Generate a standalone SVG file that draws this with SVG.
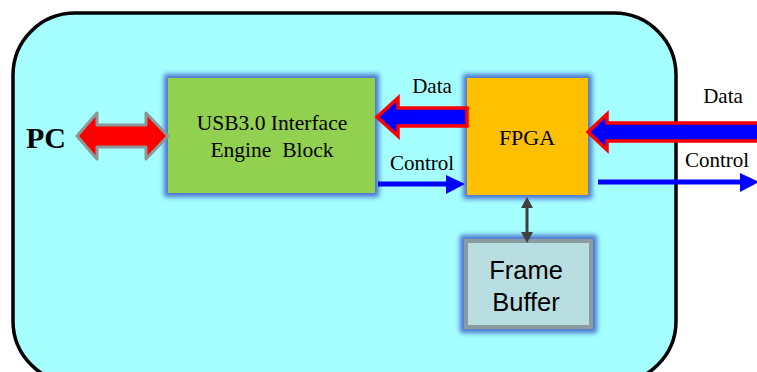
<svg xmlns="http://www.w3.org/2000/svg" width="757" height="372" viewBox="0 0 757 372">
<style>
.serif{font-family:"Liberation Serif","Times New Roman",serif;fill:#000}
.sans{font-family:"Liberation Sans",Arial,sans-serif;fill:#000}
.fat{stroke:#ff0000;stroke-width:3.5;fill:#0000ff;stroke-linejoin:miter}
.ctl{fill:#0000ff}
</style>
<defs>
<filter id="glow" x="-20%" y="-20%" width="140%" height="140%">
<feMorphology in="SourceAlpha" operator="dilate" radius="4" result="d"/>
<feGaussianBlur in="d" stdDeviation="2.5" result="b"/>
<feFlood flood-color="#4a74d0"/>
<feComposite in2="b" operator="in" result="g"/>
<feMerge><feMergeNode in="g"/><feMergeNode in="SourceGraphic"/></feMerge>
</filter>
</defs>
<rect width="757" height="372" fill="#ffffff"/>
<rect x="13" y="13" width="663" height="370" rx="62" ry="62" fill="#a5ffff" stroke="#000" stroke-width="3.5"/>
<g id="pc"><text class="serif" x="26" y="148" font-size="30" font-weight="bold">PC</text></g>
<g id="usb">
<rect x="168" y="78" width="207" height="115" fill="#92d050" filter="url(#glow)"/>
<text class="serif" x="272" y="130" font-size="21.5" text-anchor="middle">USB3.0 Interface</text>
<text class="serif" x="272" y="157" font-size="21.5" text-anchor="middle" xml:space="preserve">Engine  Block</text>
</g>
<g id="fpga">
<rect x="467" y="78" width="121" height="117" fill="#ffc000" filter="url(#glow)"/>
<text class="serif" x="527" y="145" font-size="22" text-anchor="middle">FPGA</text>
</g>
<g id="framebuffer">
<rect x="466" y="241" width="125" height="86" fill="#b8dee2" stroke="#8a9c9f" stroke-width="4" filter="url(#glow)"/>
<text class="sans" x="526" y="279" font-size="25.5" text-anchor="middle">Frame</text>
<text class="sans" x="526" y="311" font-size="25.5" text-anchor="middle">Buffer</text>
</g>
<g id="connectors">
<polygon points="77,136 97,113 97,125 146,125 146,113 168,136 146,159 146,147 97,147 97,159" fill="#ff0000" stroke="#8c9898" stroke-width="3" stroke-linejoin="round"/>
<polygon class="fat" points="377,117 398,98 398,108 467,108 467,126 398,126 398,136"/>
<text class="serif" x="432" y="93" font-size="21" text-anchor="middle">Data</text>
<polygon class="fat" points="588,132 607,114 607,123 762,123 762,141 607,141 607,150"/>
<text class="serif" x="723" y="103" font-size="21" text-anchor="middle">Data</text>
<polygon class="ctl" points="378,181.5 446,181.5 446,175 465,184 446,194 446,186.5 378,186.5"/>
<text class="serif" x="422" y="170" font-size="21" text-anchor="middle">Control</text>
<polygon class="ctl" points="598,179.5 740,179.5 740,173 759,182 740,192 740,184.5 598,184.5"/>
<text class="serif" x="717" y="167" font-size="21" text-anchor="middle">Control</text>
<line x1="527" y1="205" x2="527" y2="234" stroke="#404040" stroke-width="3"/>
<polygon points="527,197 521,208 533,208" fill="#404040"/>
<polygon points="527,243 521,232 533,232" fill="#404040"/>
</g>
</svg>
